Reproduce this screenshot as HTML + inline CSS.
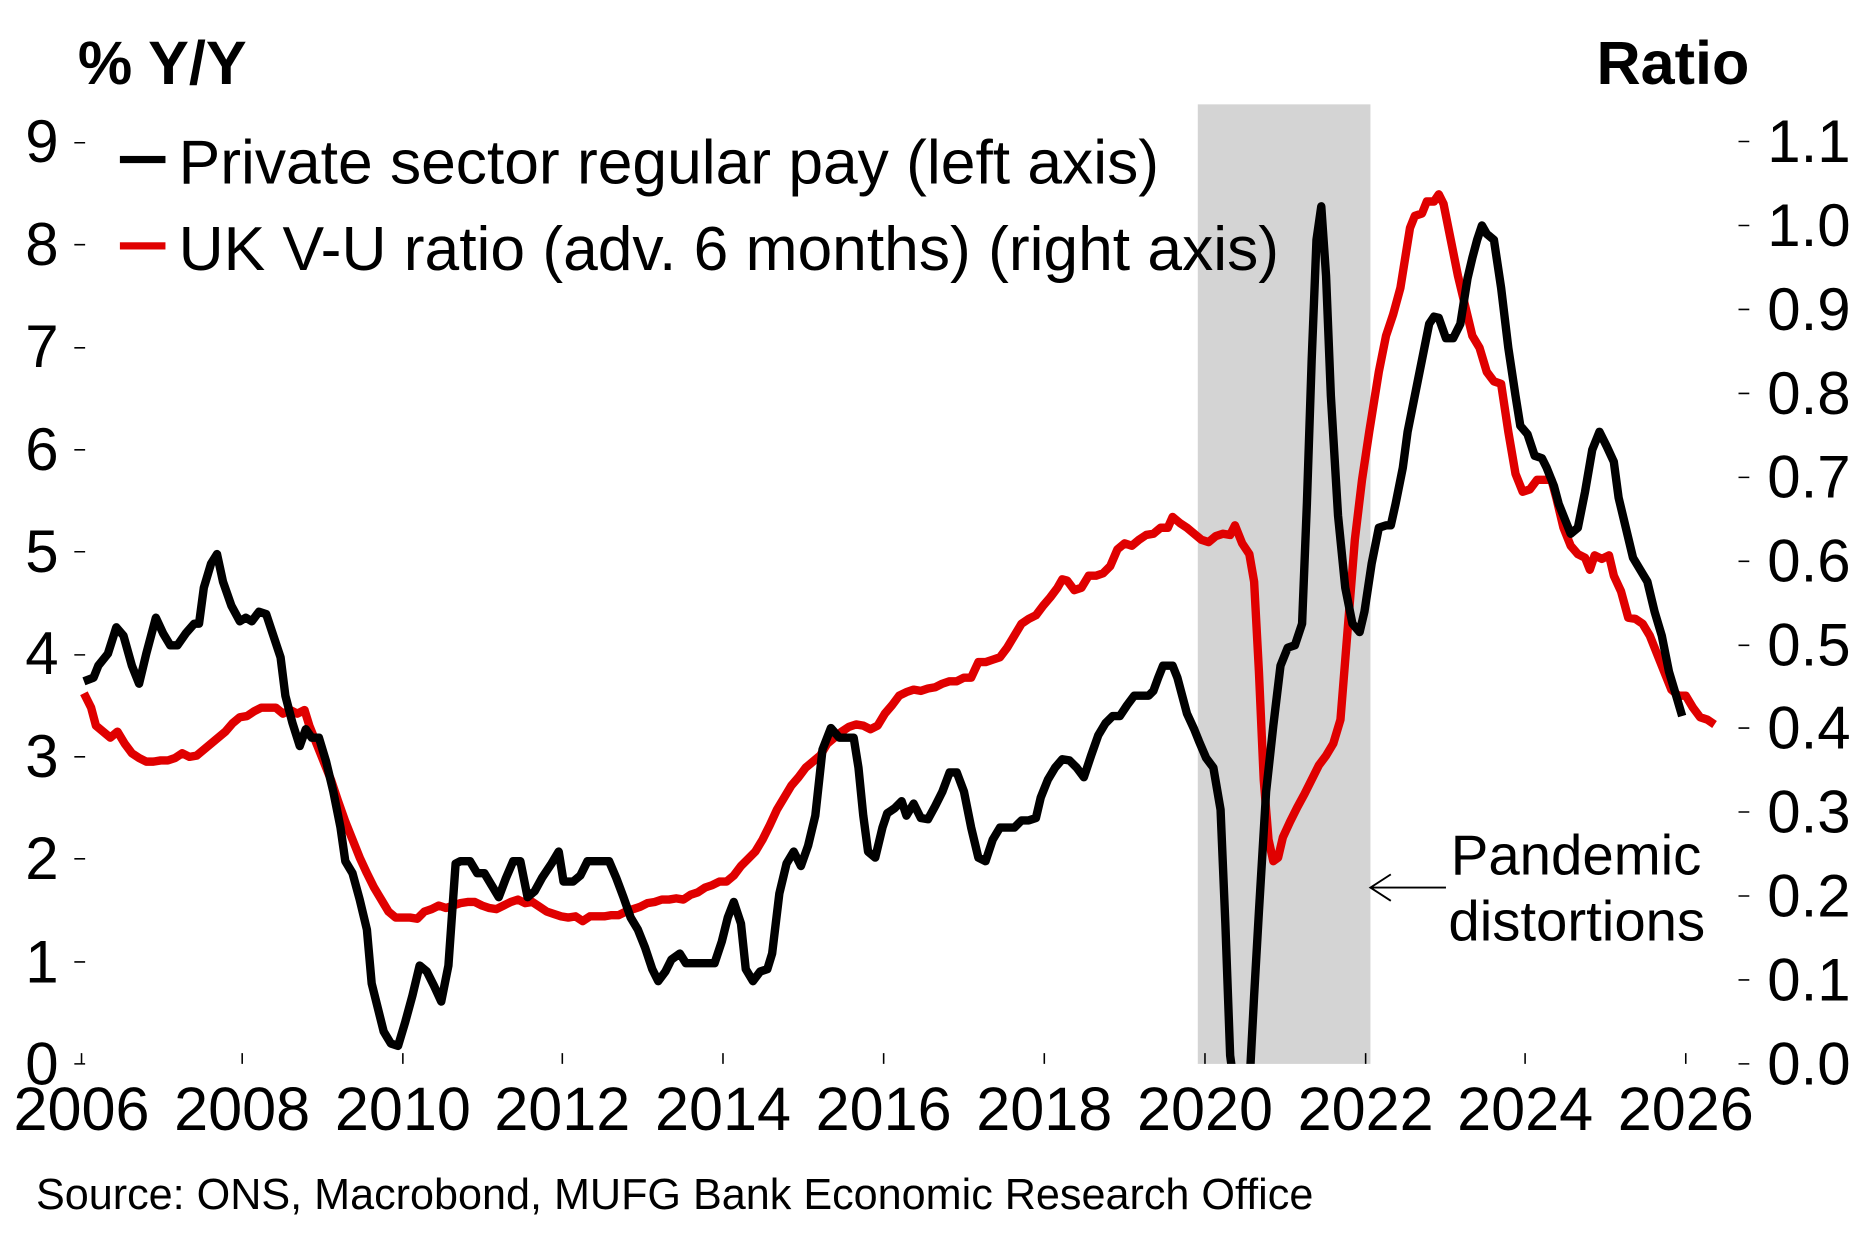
<!DOCTYPE html>
<html><head><meta charset="utf-8"><style>
html,body{margin:0;padding:0;background:#fff;}
svg{display:block;}
text{font-family:"Liberation Sans",Arial,sans-serif;fill:#000;}
</style></head><body>
<svg width="1874" height="1251" viewBox="0 0 1563 1043" preserveAspectRatio="none" xmlns="http://www.w3.org/2000/svg">
<defs><clipPath id="pa"><rect x="60" y="60" width="1400" height="827"/></clipPath></defs>
<rect x="999" y="87" width="144" height="800" fill="#d4d4d4"/>
<g font-size="51">
<text x="65" y="70" font-weight="bold">% Y/Y</text>
<text x="1459" y="70" font-weight="bold" text-anchor="end">Ratio</text>
</g>
<g font-size="50" text-anchor="middle">
<text x="35" y="904">0</text><text x="35" y="819">1</text><text x="35" y="733">2</text><text x="35" y="648">3</text><text x="35" y="562">4</text><text x="35" y="477">5</text><text x="35" y="392">6</text><text x="35" y="306">7</text><text x="35" y="221">8</text><text x="35" y="135">9</text>
</g>
<g stroke="#000" stroke-width="1.3">
<path d="M62 887h9M62 802h9M62 716h9M62 631h9M62 546h9M62 460h9M62 375h9M62 290h9M62 204h9M62 119h9"/>
<path d="M1450 887h9M1450 817h9M1450 747h9M1450 677h9M1450 607h9M1450 538h9M1450 468h9M1450 398h9M1450 328h9M1450 258h9M1450 188h9M1450 118h9"/>
<path d="M68 878v9M202 878v9M336 878v9M469 878v9M603 878v9M737 878v9M871 878v9M1005 878v9M1139 878v9M1272 878v9M1406 878v9"/>
</g>
<g font-size="50" text-anchor="start">
<text x="1474" y="904">0.0</text><text x="1474" y="834">0.1</text><text x="1474" y="764">0.2</text><text x="1474" y="694">0.3</text><text x="1474" y="624">0.4</text><text x="1474" y="555">0.5</text><text x="1474" y="485">0.6</text><text x="1474" y="415">0.7</text><text x="1474" y="345">0.8</text><text x="1474" y="275">0.9</text><text x="1474" y="205">1.0</text><text x="1474" y="135">1.1</text>
</g>
<g font-size="51" text-anchor="middle">
<text x="68" y="942">2006</text><text x="202" y="942">2008</text><text x="336" y="942">2010</text><text x="469" y="942">2012</text><text x="603" y="942">2014</text><text x="737" y="942">2016</text><text x="871" y="942">2018</text><text x="1005" y="942">2020</text><text x="1139" y="942">2022</text><text x="1272" y="942">2024</text><text x="1406" y="942">2026</text>
</g>
<g clip-path="url(#pa)" fill="none" stroke-width="7" stroke-linejoin="round">
<polyline stroke="#e00000" points="70,578 76,590 80,605 86,610 92,615 98,610 104,620 110,628 116,632 122,635 128,635 134,634 140,634 146,632 152,628 158,631 164,630 170,625 176,620 182,615 188,610 194,603 200,598 206,597 212,593 218,590 224,590 230,590 236,595 242,592 248,595 254,592 258,605 264,620 270,635 276,650 282,668 288,685 294,700 300,715 306,728 312,740 318,750 324,760 330,765 336,765 342,765 348,766 354,760 360,758 366,755 372,757 378,755 384,753 390,752 396,752 402,755 408,757 414,758 420,755 426,752 432,750 438,753 444,752 450,756 456,760 462,762 468,764 474,765 480,764 486,768 492,764 498,764 504,764 510,763 516,763 522,760 528,758 534,756 540,753 546,752 552,750 558,750 564,749 570,750 576,746 582,744 588,740 594,738 600,735 606,735 612,730 618,722 624,716 630,710 636,700 642,688 648,675 654,665 660,655 666,648 672,640 678,635 684,630 690,620 696,615 702,610 708,606 714,604 720,605 726,608 732,605 738,595 744,588 750,580 756,577 762,575 768,576 774,574 780,573 786,570 792,568 798,568 804,565 810,565 816,552 822,552 828,550 834,548 840,540 846,530 852,520 858,516 864,513 870,505 876,498 882,490 886,483 890,484 896,492 902,490 908,480 914,480 920,478 926,472 932,458 938,453 944,455 950,450 956,446 962,445 968,440 974,440 978,431 984,436 990,440 996,445 1002,450 1008,452 1014,447 1020,445 1026,446 1030,438 1036,453 1042,462 1046,485 1050,560 1054,650 1058,700 1062,718 1066,715 1070,698 1076,685 1082,673 1088,662 1094,650 1100,638 1106,630 1112,620 1118,600 1122,550 1126,500 1130,450 1136,400 1142,360 1150,310 1156,280 1162,262 1168,240 1172,215 1176,190 1180,180 1186,178 1190,168 1196,168 1200,162 1204,170 1210,200 1216,230 1222,255 1228,280 1234,290 1240,310 1246,318 1252,320 1258,360 1264,395 1270,410 1276,408 1282,400 1288,400 1294,400 1298,415 1304,440 1310,455 1316,462 1322,465 1326,475 1330,463 1336,466 1342,463 1346,480 1352,493 1358,515 1364,516 1370,520 1376,530 1382,545 1388,560 1394,575 1400,580 1406,580 1412,590 1418,598 1424,600 1430,604"/>
<polyline stroke="#000" points="70,568 78,565 82,555 90,545 97,523 103,530 110,555 116,570 122,545 130,515 136,528 142,538 148,538 155,528 162,520 166,520 170,490 176,470 181,462 186,485 193,505 200,518 205,515 210,518 216,510 222,512 228,530 234,548 238,580 244,603 250,622 255,608 260,615 266,615 272,635 278,660 284,690 288,718 294,728 300,750 306,775 310,820 315,840 320,860 326,870 332,872 338,852 344,830 350,805 356,810 362,822 368,835 374,805 380,720 384,718 392,718 398,728 404,728 410,738 416,748 422,732 428,718 434,718 440,748 446,743 452,732 460,720 466,710 470,735 478,735 484,730 490,718 496,718 502,718 508,718 514,732 520,748 526,765 532,775 538,790 544,808 549,818 555,810 560,800 567,795 572,803 578,803 584,803 590,803 596,803 602,785 607,765 612,752 618,770 622,808 628,818 634,810 640,808 644,795 650,745 656,720 662,710 668,722 674,705 680,680 686,625 693,607 700,615 706,615 712,615 716,640 720,680 724,710 730,715 736,690 740,678 746,674 752,668 756,680 762,670 768,682 774,683 780,672 786,660 792,644 798,644 804,660 810,690 816,715 822,718 828,700 834,690 840,690 846,690 852,684 858,684 864,682 868,665 874,650 880,640 886,633 892,634 898,640 904,648 910,630 916,613 922,603 928,597 934,597 940,588 946,580 952,580 958,580 962,576 966,565 970,555 978,555 982,565 986,580 990,595 996,608 1000,618 1006,632 1012,640 1018,675 1022,770 1026,880 1030,910 1040,910 1043,887 1046,830 1050,760 1056,660 1062,605 1068,555 1074,540 1080,538 1086,520 1090,420 1094,300 1098,200 1102,172 1106,230 1110,330 1116,430 1122,490 1128,520 1134,527 1138,510 1144,470 1150,440 1156,438 1160,438 1164,420 1170,390 1174,360 1180,330 1186,300 1192,270 1196,264 1200,265 1206,282 1212,282 1218,270 1224,232 1228,215 1232,200 1236,188 1240,195 1246,200 1252,240 1258,290 1264,330 1268,355 1274,362 1280,380 1286,382 1290,390 1296,405 1300,420 1306,435 1310,445 1316,440 1322,410 1328,375 1334,360 1340,372 1346,385 1350,415 1356,440 1362,465 1368,475 1374,485 1380,510 1386,530 1392,560 1398,580 1403,597"/>
</g>
<rect x="100" y="130" width="38" height="6" fill="#000"/>
<rect x="100" y="202" width="38" height="6" fill="#e00000"/>
<g font-size="52">
<text x="149" y="153">Private sector regular pay (left axis)</text>
<text x="149" y="225">UK V-U ratio (adv. 6 months) (right axis)</text>
</g>
<g font-size="47">
<text x="1210" y="729">Pandemic</text>
<text x="1208" y="784">distortions</text>
</g>
<path d="M1206 740H1143M1160 729L1143 740L1160 751" fill="none" stroke="#000" stroke-width="1.6"/>
<text x="30" y="1008" font-size="36">Source: ONS, Macrobond, MUFG Bank Economic Research Office</text>
</svg>
</body></html>
